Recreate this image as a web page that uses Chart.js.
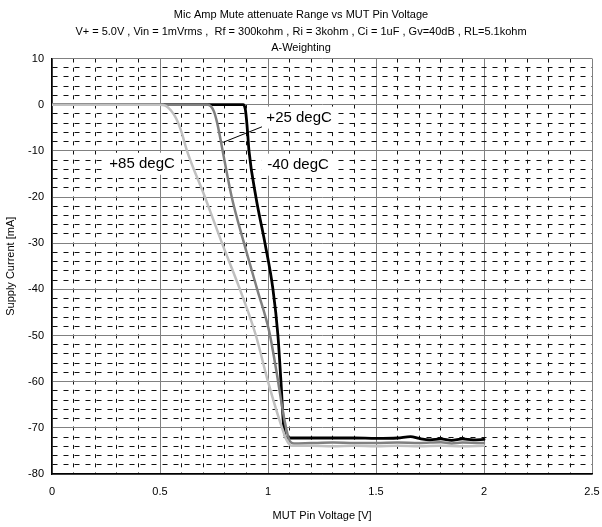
<!DOCTYPE html>
<html>
<head>
<meta charset="utf-8">
<title>Mic Amp Mute attenuate Range vs MUT Pin Voltage</title>
<script src="https://cdn.jsdelivr.net/npm/chart.js@4.4.1/dist/chart.umd.min.js"></script>
<style>
  html, body { margin: 0; padding: 0; background: #fff; }
  #wrap { width: 602px; height: 527px; }
</style>
</head>
<body>
<div id="wrap"><canvas id="chart" width="602" height="527"></canvas></div>
<script>
// Chart text
const titleLines = [
    'Mic Amp Mute attenuate Range vs MUT Pin Voltage',
    'V+ = 5.0V , Vin = 1mVrms ,  Rf = 300kohm , Ri = 3kohm , Ci = 1uF , Gv=40dB , RL=5.1kohm',
    'A-Weighting'
];
const xTitle = 'MUT Pin Voltage [V]';
const yTitle = 'Supply Current [mA]';

// +85 degC (light gray)
const hotX = [0, 0.3, 0.5, 0.525, 0.55, 0.575, 0.6, 0.625, 0.708, 0.787, 0.87, 0.944, 1.0, 1.065, 1.09, 1.11,
              1.2, 1.3, 1.4, 1.5, 1.6, 1.7, 1.8, 1.9, 2.0];
const hotY = [0, 0, 0, -0.2, -1.2, -3, -6, -10, -20, -30, -40, -50, -60, -70, -73, -73.9,
              -73.9, -74.0, -73.9, -74.0, -73.9, -74.0, -73.9, -74.0, -73.9];

// +25 degC (dark gray)
const roomX = [0, 0.3, 0.6, 0.72, 0.735, 0.75, 0.765, 0.778, 0.79, 0.832, 0.889, 0.95, 1.005, 1.04, 1.075, 1.1, 1.12,
               1.2, 1.3, 1.4, 1.5, 1.6, 1.7, 1.8, 1.85, 1.9, 2.0];
const roomY = [0, 0, 0, 0, -0.3, -1.5, -4, -7, -10, -20, -30, -40, -49, -58, -68, -72.8, -73.4,
               -73.3, -73.2, -73.3, -73.3, -73.2, -73.3, -73.1, -73.4, -73.2, -73.3];

// -40 degC (black)
const coldX = [0, 0.3, 0.6, 0.8, 0.885, 0.895, 0.902, 0.907, 0.912, 0.944, 0.986, 1.023, 1.046, 1.06, 1.073, 1.085,
               1.1, 1.2, 1.3, 1.4, 1.5, 1.6, 1.66, 1.7, 1.75, 1.8, 1.85, 1.9, 1.95, 2.0];
const coldY = [0, 0, 0, 0, 0, -1, -4, -7, -10, -20, -30, -40, -50, -60, -70, -72.2,
               -72.2, -72.2, -72.2, -72.2, -72.3, -72.2, -71.9, -72.3, -72.6, -72.4, -72.7, -72.4, -72.6, -72.5];

// Curve labels, in data units
const labelText = ['+85 degC', '-40 degC', '+25 degC'];
const labelX = [0.417, 1.139, 1.144];
const labelY = [-12.8, -13.0, -2.8];
const leaderX = [0.79, 0.972];
const leaderY = [-8.2, -4.8];

function toPoints(xs, ys) {
    return xs.map((x, i) => ({ x: x, y: ys[i] }));
}

const FONT = '"Liberation Sans", Arial, sans-serif';

// Draws curve labels on white boxes plus the +25 leader line
const curveLabels = {
    id: 'curveLabels',
    afterDatasetsDraw(chart) {
        const ctx = chart.ctx;
        const xs = chart.scales.x;
        const ys = chart.scales.y;
        ctx.save();
        ctx.font = '15px ' + FONT;
        ctx.textAlign = 'center';
        ctx.textBaseline = 'middle';
        labelText.forEach((t, i) => {
            const px = xs.getPixelForValue(labelX[i]);
            const py = ys.getPixelForValue(labelY[i]);
            const w = ctx.measureText(t).width + 12;
            ctx.fillStyle = '#fff';
            ctx.fillRect(px - w / 2, py - 11, w, 22);
            ctx.fillStyle = '#000';
            ctx.fillText(t, px, py);
        });
        ctx.strokeStyle = '#000';
        ctx.lineWidth = 1;
        ctx.beginPath();
        ctx.moveTo(xs.getPixelForValue(leaderX[0]), ys.getPixelForValue(leaderY[0]));
        ctx.lineTo(xs.getPixelForValue(leaderX[1]), ys.getPixelForValue(leaderY[1]));
        ctx.stroke();
        ctx.restore();
    }
};

function isMajorX(v) { return Math.round(v * 10) % 5 === 0; }
function isMajorY(v) { return Math.round(v) % 10 === 0; }

const lineStyle = {
    fill: false,
    pointRadius: 0,
    cubicInterpolationMode: 'monotone',
    borderJoinStyle: 'round',
    borderCapStyle: 'round'
};

new Chart(document.getElementById('chart').getContext('2d'), {
    type: 'line',
    data: {
        datasets: [
            Object.assign({ label: '+85 degC', data: toPoints(hotX, hotY), borderColor: '#c0c0c0', borderWidth: 2.5 }, lineStyle),
            Object.assign({ label: '+25 degC', data: toPoints(roomX, roomY), borderColor: '#808080', borderWidth: 2.5 }, lineStyle),
            Object.assign({ label: '-40 degC', data: toPoints(coldX, coldY), borderColor: '#000000', borderWidth: 2.8 }, lineStyle)
        ]
    },
    options: {
        responsive: false,
        animation: false,
        layout: { padding: { left: 0, right: 0, top: 0, bottom: 0 } },
        plugins: {
            legend: { display: false },
            tooltip: { enabled: false },
            title: {
                display: true,
                text: titleLines,
                color: '#000',
                font: { family: FONT, size: 11, weight: 'normal', lineHeight: 1.5 },
                padding: { top: 7, bottom: 2 }
            }
        },
        scales: {
            x: {
                type: 'linear',
                min: 0,
                max: 2.5,
                afterFit(scale) {
                    scale.height = 53;
                    scale.paddingRight = 10;
                },
                ticks: {
                    stepSize: 0.1,
                    autoSkip: false,
                    maxRotation: 0,
                    padding: 11,
                    color: '#000',
                    font: { family: FONT, size: 11 },
                    callback: v => isMajorX(v) ? String(Math.round(v * 10) / 10) : ''
                },
                grid: {
                    drawTicks: false,
                    color: c => isMajorX(c.tick.value) ? '#808080' : '#111',
                    lineWidth: 1
                },
                border: {
                    color: '#000',
                    width: 1.5,
                    dash: c => (c.tick && !isMajorX(c.tick.value)) ? [4, 5.2] : []
                },
                title: {
                    display: true,
                    text: xTitle,
                    color: '#000',
                    font: { family: FONT, size: 11 },
                    padding: { top: 4 }
                }
            },
            y: {
                type: 'linear',
                min: -80,
                max: 10,
                afterFit(scale) { scale.width = 52; },
                ticks: {
                    stepSize: 2,
                    autoSkip: false,
                    padding: 8,
                    color: '#000',
                    font: { family: FONT, size: 11 },
                    callback: v => isMajorY(v) ? String(Math.round(v)) : ''
                },
                grid: {
                    drawTicks: false,
                    color: c => isMajorY(c.tick.value) ? '#808080' : '#111',
                    lineWidth: 1
                },
                border: {
                    color: '#000',
                    width: 1.5,
                    dash: c => (c.tick && !isMajorY(c.tick.value)) ? [5, 6] : []
                },
                title: {
                    display: true,
                    text: yTitle,
                    color: '#000',
                    font: { family: FONT, size: 11 },
                    padding: { bottom: 2 }
                }
            }
        }
    },
    plugins: [curveLabels]
});
</script>
</body>
</html>
